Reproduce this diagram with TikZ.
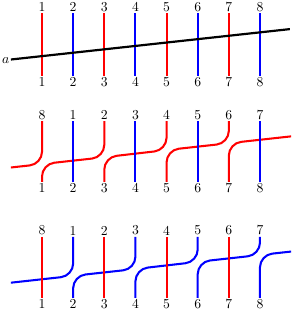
\documentclass[tikz,border=0pt]{standalone}
\usepackage{tikz}
\tikzset{lab/.style={inner sep=1pt}, wire/.style={line width=1.5pt}, strand/.style={wire, rounded corners=9pt}}

\begin{document}
\begin{tikzpicture}[x=0.8cm, y=0.8cm]
\useasboundingbox (-0.35,-10.15) rectangle (9.0,0);

% first row: the line a through all eight
\foreach \i/\c in {1/red,2/blue,3/red,4/blue,5/red,6/blue,7/red,8/blue} {
  \node[lab, anchor=south] (ta\i) at (\i,-0.42) {\i};
  \node[lab, anchor=north] (ba\i) at (\i,-2.44) {\i};
  \draw[wire, \c] (ta\i) -- (ba\i);
}
\node[lab, anchor=east] (a) at (0,-1.93) {$a$};
\coordinate (aend) at (8.96,-0.935);
\draw[line width=1.6pt] (a) -- (aend);

% second row
\foreach \i/\t in {1/8,2/1,3/2,4/3,5/4,6/5,7/6,8/7} {
  \node[lab, anchor=south] (tb\i) at (\i,-3.89) {\t};
  \node[lab, anchor=north] (bb\i) at (\i,-5.84) {\i};
}
\coordinate (lb) at (0,-5.38);
\coordinate (rb) at (9,-4.38);
\draw[strand, red] (lb) -- (1,-5.27) -- (tb1);
\draw[strand, red] (bb1) -- (1,-5.27) -- (3,-5.05) -- (tb3);
\draw[strand, red] (bb3) -- (3,-5.05) -- (5,-4.82) -- (tb5);
\draw[strand, red] (bb5) -- (5,-4.82) -- (7,-4.60) -- (tb7);
\draw[strand, red] (bb7) -- (7,-4.60) -- (rb);
\foreach \i in {2,4,6,8}
  \draw[wire, blue] (tb\i) -- (bb\i);

% third row
\foreach \i/\t in {1/8,2/1,3/2,4/3,5/4,6/5,7/6,8/7} {
  \node[lab, anchor=south] (tc\i) at (\i,-7.61) {\t};
  \node[lab, anchor=north] (bc\i) at (\i,-9.57) {\i};
}
\coordinate (lc) at (0,-9.08);
\coordinate (rc) at (9,-8.08);
\draw[strand, blue] (lc) -- (2,-8.86) -- (tc2);
\draw[strand, blue] (bc2) -- (2,-8.86) -- (4,-8.64) -- (tc4);
\draw[strand, blue] (bc4) -- (4,-8.64) -- (6,-8.41) -- (tc6);
\draw[strand, blue] (bc6) -- (6,-8.41) -- (8,-8.19) -- (tc8);
\draw[strand, blue] (bc8) -- (8,-8.19) -- (rc);
\foreach \i in {1,3,5,7}
  \draw[wire, red] (tc\i) -- (bc\i);
\end{tikzpicture}
\end{document}
